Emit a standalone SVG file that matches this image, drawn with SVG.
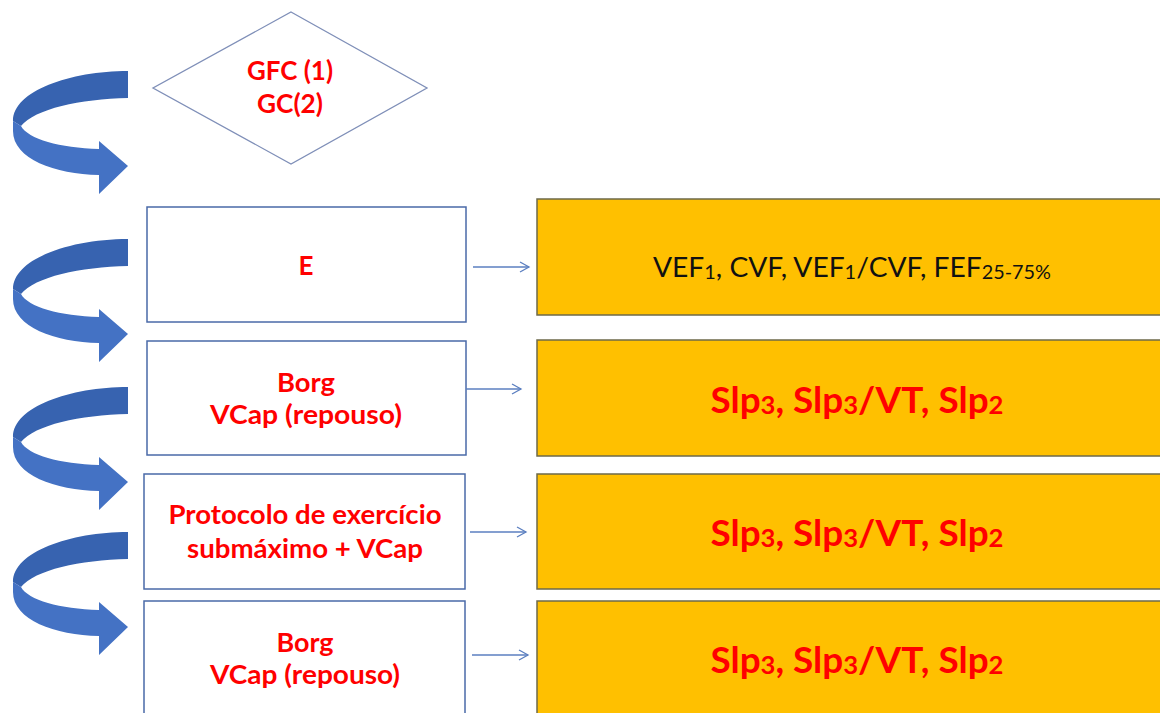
<svg xmlns="http://www.w3.org/2000/svg" width="1160" height="713" viewBox="0 0 1160 713">
<style>
.box{fill:#fff;stroke:#4a6aa8;stroke-width:1.5}
.org{fill:#ffc000;stroke:#6e6a4a;stroke-width:1.5}
.rt{font-family:Lato,"Liberation Sans",sans-serif;font-weight:bold;fill:#ff0000;font-size:26px;text-anchor:middle}
.bt{font-family:Lato,"Liberation Sans",sans-serif;fill:#111;font-size:27px;text-anchor:middle}
.big{font-family:Lato,"Liberation Sans",sans-serif;font-weight:bold;fill:#ff0000;font-size:36px;text-anchor:middle}
.con{stroke:#5b7fc0;stroke-width:1.3;fill:none}
</style>
<defs>
<marker id="ah" markerWidth="12" markerHeight="12" refX="10" refY="6" orient="auto" markerUnits="userSpaceOnUse">
<path d="M1,1 L10,6 L1,11" fill="none" stroke="#5b7fc0" stroke-width="1.3"/>
</marker>
<g id="curl">
<path d="M128,0 C70,0 13,20 13,50 L21,55 C35,38 80,28 128,27 Z" fill="#3763b0"/>
<path d="M13,50 L13,60 C13,88 55,103 99,104 L99,123 L128,95 L99,70 L99,78 C60,77 28,68 21,55 Z" fill="#4472c4"/>
</g>
</defs>
<rect width="1160" height="713" fill="#fff"/>
<g id="curls">
<use href="#curl" transform="translate(0,71)"/>
<use href="#curl" transform="translate(0,239)"/>
<use href="#curl" transform="translate(0,387)"/>
<use href="#curl" transform="translate(0,532)"/>
</g>
<g id="n-diamond">
<polygon points="291,12 427,88 291,164 153,88" fill="#fff" stroke="#7f8fb8" stroke-width="1.3"/>
<text class="rt" x="290" y="80" textLength="86" lengthAdjust="spacingAndGlyphs">GFC (1)</text>
<text class="rt" x="290" y="113" textLength="66" lengthAdjust="spacingAndGlyphs">GC(2)</text>
</g>
<g id="n-e">
<rect class="box" x="147" y="207" width="319" height="115"/>
<text class="rt" x="306" y="275">E</text>
</g>
<g id="n-borg1">
<rect class="box" x="147" y="341" width="319" height="114"/>
<text class="rt" x="306" y="392" textLength="58" lengthAdjust="spacingAndGlyphs">Borg</text>
<text class="rt" x="306" y="424" textLength="192" lengthAdjust="spacingAndGlyphs">VCap (repouso)</text>
</g>
<g id="n-proto">
<rect class="box" x="144" y="474" width="321" height="115"/>
<text class="rt" x="305" y="524" textLength="273" lengthAdjust="spacingAndGlyphs">Protocolo de exercício</text>
<text class="rt" x="305" y="558" textLength="236" lengthAdjust="spacingAndGlyphs">submáximo + VCap</text>
</g>
<g id="n-borg2">
<rect class="box" x="144" y="601" width="321" height="120"/>
<text class="rt" x="305" y="652" textLength="57" lengthAdjust="spacingAndGlyphs">Borg</text>
<text class="rt" x="305" y="684" textLength="190" lengthAdjust="spacingAndGlyphs">VCap (repouso)</text>
</g>
<g id="n-o1">
<rect class="org" x="537" y="199" width="630" height="116"/>
<text class="bt" x="852" y="277" textLength="398" lengthAdjust="spacingAndGlyphs">VEF<tspan font-size="19" dy="2">1</tspan><tspan dy="-2">, CVF, VEF</tspan><tspan font-size="19" dy="2">1</tspan><tspan dy="-2">/CVF, FEF</tspan><tspan font-size="19" dy="2">25-75%</tspan></text>
</g>
<g id="n-o2">
<rect class="org" x="537" y="340" width="630" height="116"/>
<text class="big" x="857" y="413" textLength="293" lengthAdjust="spacingAndGlyphs">Slp<tspan font-size="25" dy="1">3</tspan><tspan dy="-1">, Slp</tspan><tspan font-size="25" dy="1">3</tspan><tspan dy="-1">/VT, Slp</tspan><tspan font-size="25" dy="1">2</tspan></text>
</g>
<g id="n-o3">
<rect class="org" x="537" y="474" width="630" height="115"/>
<text class="big" x="857" y="546" textLength="293" lengthAdjust="spacingAndGlyphs">Slp<tspan font-size="25" dy="1">3</tspan><tspan dy="-1">, Slp</tspan><tspan font-size="25" dy="1">3</tspan><tspan dy="-1">/VT, Slp</tspan><tspan font-size="25" dy="1">2</tspan></text>
</g>
<g id="n-o4">
<rect class="org" x="537" y="601" width="630" height="120"/>
<text class="big" x="857" y="673" textLength="293" lengthAdjust="spacingAndGlyphs">Slp<tspan font-size="25" dy="1">3</tspan><tspan dy="-1">, Slp</tspan><tspan font-size="25" dy="1">3</tspan><tspan dy="-1">/VT, Slp</tspan><tspan font-size="25" dy="1">2</tspan></text>
</g>
<g id="connectors">
<line class="con" x1="473" y1="267" x2="529" y2="267" marker-end="url(#ah)"/>
<line class="con" x1="466" y1="389" x2="521" y2="389" marker-end="url(#ah)"/>
<line class="con" x1="470" y1="532" x2="526" y2="532" marker-end="url(#ah)"/>
<line class="con" x1="472" y1="655" x2="528" y2="655" marker-end="url(#ah)"/>
</g>
</svg>
